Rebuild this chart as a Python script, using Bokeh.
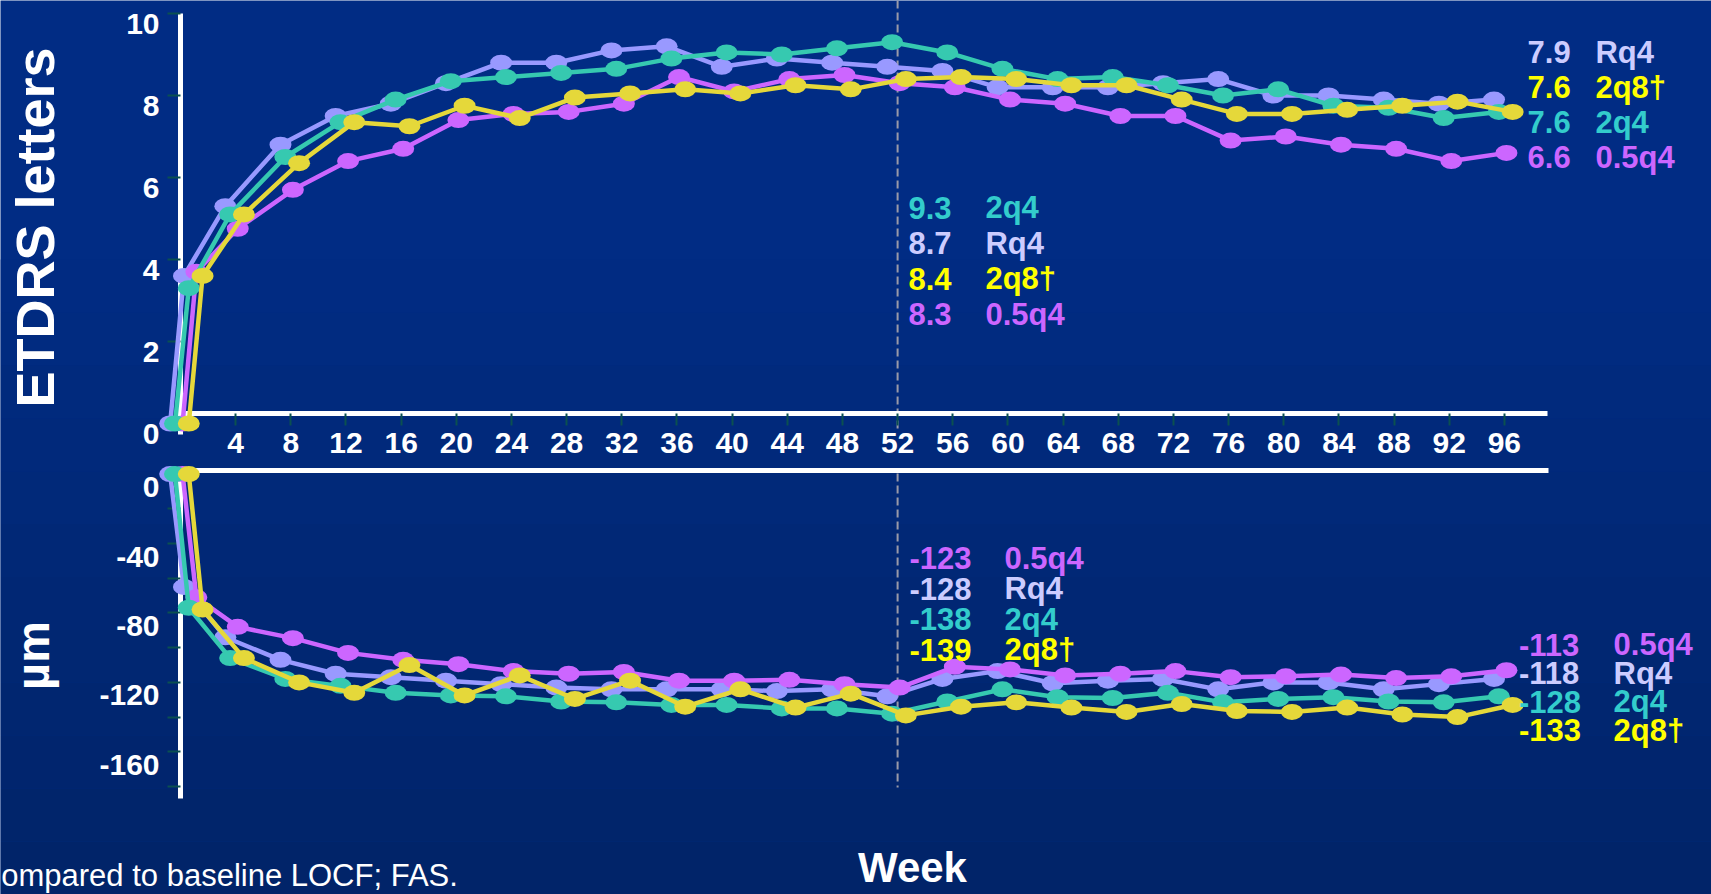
from bokeh.plotting import figure
from bokeh.models import (ColumnDataSource, Range1d, FixedTicker, Label,
                          LinearAxis, BoxAnnotation, CustomJSTickFormatter)
from bokeh.transform import dodge
from bokeh.core.properties import value
from bokeh.embed import file_html
from bokeh.resources import INLINE

# ---------------- data ----------------
weeks = [0, 1, 4, 8, 12, 16, 20, 24, 28, 32, 36, 40, 44, 48, 52,
         56, 60, 64, 68, 72, 76, 80, 84, 88, 92, 96]
week_ticks = [4, 8, 12, 16, 20, 24, 28, 32, 36, 40, 44, 48, 52,
              56, 60, 64, 68, 72, 76, 80, 84, 88, 92, 96]
bcva_ticks = [0, 2, 4, 6, 8, 10]
crt_ticks = [0, -40, -80, -120, -160]
crt_minor_ticks = [-20, -60, -100, -140, -180]
ref_week = 52

series = ["Rq4", "0.5q4", "2q4", "2q8\u2020"]

# mean change in BCVA (ETDRS letters)
bcva_rq4 = [0, 3.6, 5.3, 6.8, 7.5, 7.8, 8.3, 8.8, 8.8, 9.1, 9.2, 8.7, 8.9,
            8.8, 8.7, 8.6, 8.2, 8.2, 8.2, 8.3, 8.4, 8.0, 8.0, 7.9, 7.8, 7.9]
bcva_2q4 = [0, 3.3, 5.1, 6.5, 7.35, 7.9, 8.35, 8.45, 8.55, 8.65, 8.9, 9.05,
            9.0, 9.15, 9.3, 9.05, 8.65, 8.4, 8.45, 8.25, 8.0, 8.15, 7.75,
            7.7, 7.45, 7.6]
bcva_2q8 = [0, 3.6, 5.1, 6.35, 7.35, 7.25, 7.75, 7.45, 7.95, 8.05, 8.15,
            8.05, 8.25, 8.15, 8.4, 8.45, 8.4, 8.25, 8.25, 7.9, 7.55, 7.55,
            7.65, 7.75, 7.85, 7.6]
bcva_05q4 = [0, 3.7, 4.75, 5.7, 6.4, 6.7, 7.4, 7.55, 7.6, 7.8, 8.45, 8.1,
             8.4, 8.5, 8.3, 8.2, 7.9, 7.8, 7.5, 7.5, 6.9, 7.0, 6.8, 6.7,
             6.4, 6.6]

# mean change in central retinal thickness (um)
crt_rq4 = [0, -65, -94, -107, -115, -117, -119, -121, -123, -124, -124,
           -124, -125, -124, -128, -118, -113.5, -120.5, -119, -118, -124,
           -120, -120, -124, -121, -118]
crt_2q4 = [0, -77, -106, -118, -122, -126, -127.5, -128, -131, -131.5,
           -133, -133, -135, -135, -138, -131, -124, -128.5, -129, -126,
           -131.5, -129.5, -128.5, -131, -131.5, -128]
crt_2q8 = [0, -78, -106, -120, -126, -110, -127.5, -116, -129.5, -119,
           -134, -124, -134.5, -126.5, -139, -134, -131.5, -134.5, -137,
           -132.5, -136.5, -137, -134.5, -138.5, -140, -133]
crt_05q4 = [0, -71, -88, -94.5, -103, -107, -109.5, -113.5, -115, -114,
            -119, -119, -118.5, -121, -123, -111, -112.5, -116, -115,
            -113.5, -117, -116.5, -115.5, -117.5, -116.5, -113]

# label orders (as printed on the slide)
top_mid_order = ["2q4", "Rq4", "2q8\u2020", "0.5q4"]
top_right_order = ["Rq4", "2q8\u2020", "2q4", "0.5q4"]
bot_mid_order = ["0.5q4", "Rq4", "2q4", "2q8\u2020"]
bot_right_order = ["0.5q4", "Rq4", "2q4", "2q8\u2020"]

# ---------------- styles ----------------
FONTNAME = "Liberation Sans"
FONT = value(FONTNAME)
BG_TOP = (1, 44, 132)
BG_BOT = (1, 36, 105)
TICK = "#0b5050"
line_col = {"Rq4": "#9999ff", "0.5q4": "#cc66ff", "2q4": "#36c9b0", "2q8\u2020": "#e5d83a"}
text_col = {"Rq4": "#ccccff", "0.5q4": "#cc66ff", "2q4": "#33cccc", "2q8\u2020": "#ffff00"}
offset = {"Rq4": -0.75, "0.5q4": 0.15, "2q4": -0.4, "2q8\u2020": 0.6}
key = {"Rq4": "rq4", "0.5q4": "q05", "2q4": "q2q4", "2q8\u2020": "q2q8"}

src_top = ColumnDataSource(dict(week=weeks, rq4=bcva_rq4, q05=bcva_05q4,
                                q2q4=bcva_2q4, q2q8=bcva_2q8))
src_bot = ColumnDataSource(dict(week=weeks, rq4=crt_rq4, q05=crt_05q4,
                                q2q4=crt_2q4, q2q8=crt_2q8))

# panel geometry: BCVA uses the default y range, CRT an extra one
BCVA_LO, BCVA_HI = -11.488, 10.317
CRT_LO, CRT_HI = -242.2, 272.87
LBL_SHIFT_TOP = 0.26   # tick labels sit slightly below their ticks
LBL_SHIFT_BOT = 7.5


def hexcol(c):
    return "#%02x%02x%02x" % c


p = figure(width=1711, height=894, x_range=Range1d(-13.053, 111.02),
           y_range=Range1d(BCVA_LO, BCVA_HI), output_backend="svg",
           toolbar_location=None, title=None, min_border_left=0,
           min_border_right=0, min_border_top=0, min_border_bottom=0,
           background_fill_color=hexcol(BG_TOP),
           border_fill_color=hexcol(BG_TOP), outline_line_color=None)
p.extra_y_ranges = {"crt": Range1d(CRT_LO, CRT_HI)}
p.xgrid.visible = False
p.ygrid.visible = False

# slide background gradient (darker towards the bottom)
n_band = 12
band_top = 4.0
for i in range(n_band):
    t = (i + 1) / n_band
    c = tuple(round(a + (b - a) * t) for a, b in zip(BG_TOP, BG_BOT))
    hi = band_top + (BCVA_LO - band_top) * i / n_band
    lo = band_top + (BCVA_LO - band_top) * (i + 1) / n_band if i < n_band - 1 else BCVA_LO
    p.add_layout(BoxAnnotation(bottom=lo, top=hi, fill_color=hexcol(c),
                               fill_alpha=1.0, line_color=None, level="image"))


def style_axis(ax):
    ax.axis_line_color = "white"
    ax.axis_line_width = 5
    ax.major_tick_line_color = TICK
    ax.major_tick_line_width = 2
    ax.major_tick_in = 0
    ax.minor_tick_line_color = None
    ax.major_label_text_color = "white"
    ax.major_label_text_font = FONTNAME
    ax.major_label_text_font_style = "bold"
    ax.major_label_text_font_size = "30px"
    ax.level = "underlay"


def draw_series(src, rn):
    for s in series:
        xs = dodge("week", offset[s], range=p.x_range)
        p.line(x=xs, y=key[s], source=src, line_color=line_col[s],
               line_width=4.5, y_range_name=rn)
        p.ellipse(x=xs, y=key[s], width=22, height=16, width_units="screen",
                  height_units="screen", source=src, fill_color=line_col[s],
                  line_color=None, y_range_name=rn)


def draw_labels(src, rn, order, end_week, x_num, x_name, y0, dy, fmt):
    idx = weeks.index(end_week)
    nums = [fmt.format(src.data[key[s]][idx]) for s in order]
    ys = [y0 + i * dy for i in range(len(order))]
    cols = [text_col[s] for s in order]
    lsrc = ColumnDataSource(dict(x1=[x_num] * 4, x2=[x_name] * 4, y=ys,
                                 num=nums, name=order, c=cols))
    for xf, tf in (("x1", "num"), ("x2", "name")):
        p.text(x=xf, y="y", text=tf, source=lsrc, text_color="c",
               text_font=FONT, text_font_style="bold", text_font_size="31px",
               text_baseline="middle", text_align="left", y_range_name=rn)


def ref_line(y0, y1, rn):
    p.segment(x0=[ref_week], y0=[y0], x1=[ref_week], y1=[y1],
              line_color="#9a9aa8", line_dash="8 4", line_width=2,
              level="underlay", y_range_name=rn)


# ---------------- top panel: BCVA ----------------
ref_line(BCVA_HI, -0.17, "default")
draw_series(src_top, "default")
xa = p.xaxis[0]
style_axis(xa)
xa.fixed_location = 0.244
xa.bounds = (0, 99.1)
xa.ticker = FixedTicker(ticks=week_ticks)
xa.major_tick_out = 12
xa.major_label_standoff = 8

ya = p.yaxis[0]
style_axis(ya)
ya.fixed_location = 0
ya.bounds = (-LBL_SHIFT_TOP, 10)
ya.ticker = FixedTicker(ticks=[t - LBL_SHIFT_TOP for t in bcva_ticks],
                        minor_ticks=bcva_ticks)
ya.formatter = CustomJSTickFormatter(
    code="return String(Math.round(tick + %s));" % LBL_SHIFT_TOP)
ya.major_tick_line_color = None
ya.minor_tick_line_color = TICK
ya.minor_tick_line_width = 2
ya.minor_tick_out = 13
ya.minor_tick_in = 0
ya.major_tick_out = 13
ya.major_label_standoff = 8

draw_labels(src_top, "default", top_mid_order, 52, 52.79, 58.37, 5.256, -0.865, "{:.1f}")
draw_labels(src_top, "default", top_right_order, 96, 97.68, 102.6, 9.056, -0.8537, "{:.1f}")
p.add_layout(Label(x=-10.55, y=4.78, text="ETDRS letters", angle=1.5708,
                   text_align="center", text_baseline="alphabetic",
                   text_color="white", text_font=FONTNAME, text_font_style="bold",
                   text_font_size="54px"))

# ---------------- bottom panel: CRT ----------------
ref_line(0.35, -180.5, "crt")
draw_series(src_bot, "crt")
xb = LinearAxis(y_range_name="crt")
style_axis(xb)
xb.fixed_location = 2.07
xb.bounds = (0, 99.2)
xb.ticker = FixedTicker(ticks=[])
p.add_layout(xb, "below")

yb = LinearAxis(y_range_name="crt")
style_axis(yb)
yb.fixed_location = 0
yb.bounds = (-187, 2.07)
yb.ticker = FixedTicker(ticks=[t - LBL_SHIFT_BOT for t in crt_ticks],
                        minor_ticks=crt_ticks + crt_minor_ticks)
yb.formatter = CustomJSTickFormatter(
    code="return String(Math.round(tick + %s));" % LBL_SHIFT_BOT)
yb.major_tick_line_color = None
yb.minor_tick_line_color = TICK
yb.minor_tick_line_width = 2
yb.minor_tick_out = 13
yb.minor_tick_in = 0
yb.major_tick_out = 13
yb.major_label_standoff = 8
p.add_layout(yb, "left")

draw_labels(src_bot, "crt", bot_mid_order, 52, 52.86, 59.75, -48.34, -17.57, "{:.0f}")
draw_labels(src_bot, "crt", bot_right_order, 96, 97.06, 103.92, -98.18, -16.42, "{:.0f}")
p.add_layout(Label(x=-10.73, y=-104.5, text="\u00b5m", angle=1.5708,
                   text_align="center", text_baseline="alphabetic",
                   text_color="white", text_font=FONTNAME, text_font_style="bold",
                   text_font_size="47px", y_range_name="crt"))
p.add_layout(Label(x=53.08, y=-226.4, text="Week", text_align="center",
                   text_baseline="alphabetic", text_color="white",
                   text_font=FONTNAME, text_font_style="bold",
                   text_font_size="42px", y_range_name="crt"))
p.add_layout(Label(x=-13.0, y=-231.3, text="ompared to baseline LOCF; FAS.",
                   text_align="left", text_baseline="alphabetic",
                   text_color="white", text_font=FONTNAME, text_font_size="31px",
                   y_range_name="crt"))

open("out.html", "w").write(file_html(p, INLINE))
